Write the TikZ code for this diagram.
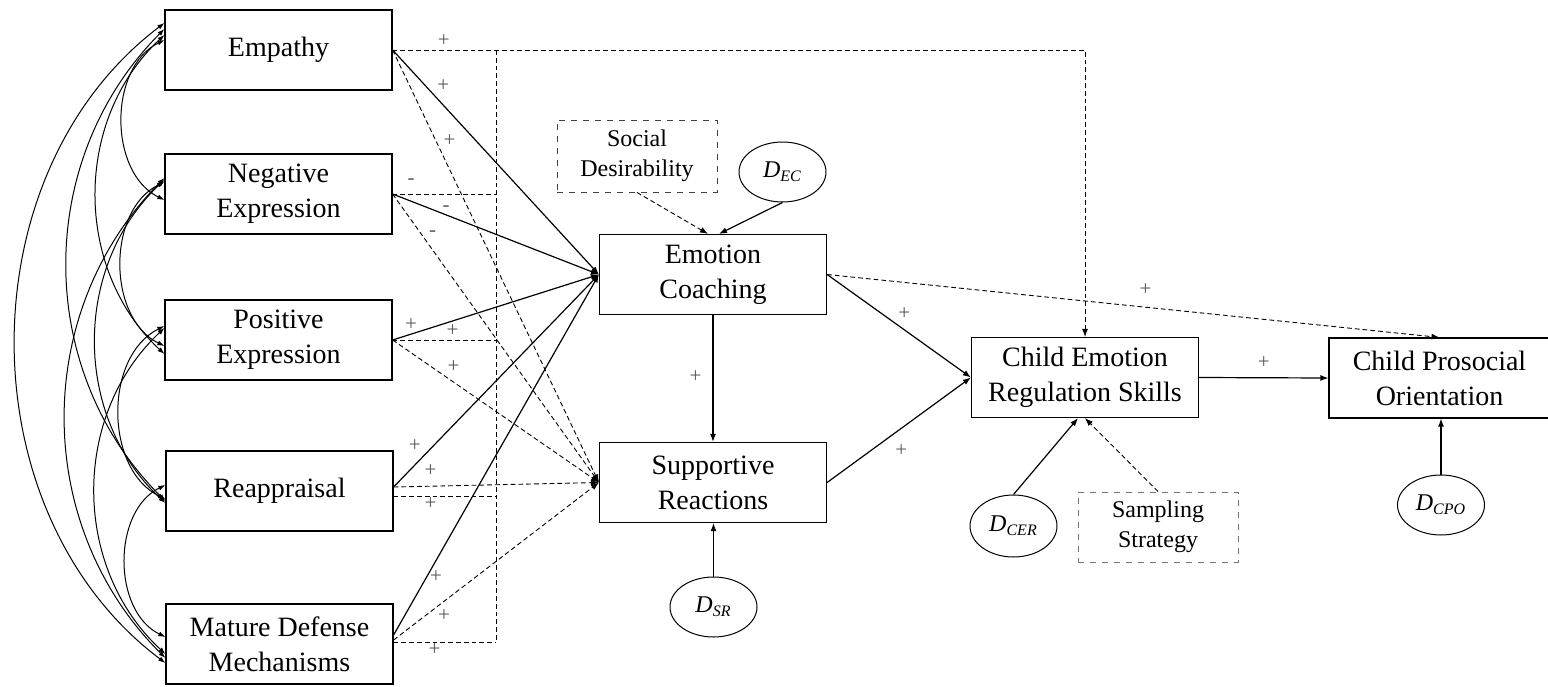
\documentclass[tikz,border=0pt]{standalone}
\usepackage{fontspec}
\setmainfont{Liberation Serif}
\usetikzlibrary{arrows.meta, positioning, calc, shapes.geometric}

\begin{document}
\begin{tikzpicture}[
  x=0.5pt, y=-0.5pt, line width=0.6pt,
  block/.style = {draw, minimum height=40pt, minimum width=113.5pt, inner sep=2pt, align=center, font=\fontsize{14}{17.5}\selectfont},
  ctrl/.style = {draw=black!75, dashed, line width=0.45pt, minimum height=36pt, minimum width=80pt, align=center, font=\fontsize{12}{15}\selectfont},
  dist/.style = {draw, line width=0.5pt, ellipse, minimum height=30pt, minimum width=43.5pt, inner sep=0pt, font=\fontsize{12}{14}\selectfont\itshape},
  arrow/.style = {-{Latex[length=4pt, width=3pt]}},
  dline/.style = {line width=0.45pt, dash pattern=on 2.4pt off 1.5pt},
  darrow/.style = {arrow, dline},
  cov/.style = {{Latex[length=3.5pt, width=2.5pt]}-{Latex[length=3.5pt, width=2.5pt]}, line width=0.5pt},
  sign/.style = {font=\fontsize{10.5}{12}\selectfont, text=black!65, text height=5pt, text depth=0pt, inner sep=1.5pt}
]
\useasboundingbox (0,0) rectangle (1548,686);

% Predictor Blocks
\node[block] (emp) at (278.5,50) {Empathy};
\node[block] (negexp) at (278.5,194) {Negative\\Expression};
\node[block] (posexp) at (278.5,340) {Positive\\Expression};
\node[block] (reapp) at (279.5,491) {Reappraisal};
\node[block] (mature) at (279.5,644) {Mature Defense\\Mechanisms};

% Parenting Blocks
\node[block] (coach) at (713,274.5) {Emotion\\Coaching};
\node[block] (support) at (713,482.5) {Supportive\\Reactions};
\node[ctrl] (socdes) at (637,156) {Social\\Desirability};
\node[dist] (dEC) at (782.5,172) {D\textsubscript{EC}};
\node[dist] (dSR) at (713.5,607) {D\textsubscript{SR}};

% Child Blocks
\node[block] (regul) at (1085,377.5) {Child Emotion\\Regulation Skills};
\node[block, minimum width=110.5pt] (prosoc) at (1439.5,378) {Child Prosocial\\Orientation};
\node[dist, minimum height=31pt] (dCER) at (1013.5,526) {D\textsubscript{CER}};
\node[ctrl, draw=black!55, minimum height=35pt] (sampl) at (1158,527) {Sampling\\Strategy};
\node[dist] (dCPO) at (1441,505) {D\textsubscript{CPO}};

% Dashed bus to child regulation
\coordinate (bustop) at (496,50);
\coordinate (busbot) at (496,642);
\draw[dline] (bustop) -- (busbot);

% Empathy paths
\draw[darrow] (emp.east) -| node[sign, pos=0.037, above] {+} (regul.north);
\draw[arrow] (emp.east) -- node[sign, pos=0.2, above right] {+} (coach.west);
\draw[darrow] (emp.east) -- node[sign, pos=0.23, above right] {+} (support.west);

% Negative Expression paths
\draw[dline] (negexp.east) -- node[sign, pos=0.18, above=3pt] {-} (negexp.east -| bustop);
\draw[arrow] (negexp.east) -- node[sign, pos=0.26, above] {-} (coach.west);
\draw[darrow] (negexp.east) -- node[sign, pos=0.16, above right] {-} (support.west);

% Positive Expression paths
\draw[dline] (posexp.east) -- node[sign, pos=0.58, above] {+} (posexp.east -| bustop);
\draw[arrow] (posexp.east) -- node[sign, pos=0.09, above] {+} (coach.west);
\draw[darrow] (posexp.east) -- node[sign, pos=0.25, above right] {+} (support.west);

% Reappraisal paths
\draw[arrow] ($(reapp.east)+(0,-4)$) -- node[sign, pos=0.15, above left] {+} (coach.west);
\draw[darrow] ($(reapp.east)+(0,-4)$) -- node[sign, pos=0.18, above=3pt] {+} (support.west);
\draw[dline] ($(reapp.east)+(0,5)$) -- node[sign, pos=0.36, below] {+} ($(reapp.east -| bustop)+(0,5)$);

% Mature Defense paths
\draw[arrow] ($(mature.east)+(0,-9)$) -- node[sign, pos=0.16, right] {+} (coach.west);
\draw[darrow] ($(mature.east)+(0,-4)$) -- node[sign, pos=0.2, below right] {+} (support.west);
\draw[dline] ($(mature.east)+(0,-2)$) -- node[sign, pos=0.4, below] {+} (busbot);

% Covariances
\draw[cov] ($(emp.west)+(0,-10)$) to[bend right=64] ($(negexp.west)+(0,6)$);
\draw[cov] ($(emp.west)+(0,-15)$) to[bend right=47] ($(posexp.west)+(0,14)$);
\draw[cov] ($(emp.west)+(0,-21)$) to[bend right=45] ($(reapp.west)+(0,10)$);
\draw[cov] ($(emp.west)+(0,-27)$) to[bend right=53] ($(mature.west)+(0,19)$);
\draw[cov] ($(negexp.west)+(0,-12)$) to[bend right=64] ($(posexp.west)+(0,6)$);
\draw[cov] ($(negexp.west)+(0,-14)$) to[bend right=47] ($(reapp.west)+(0,12)$);
\draw[cov] ($(negexp.west)+(0,-16)$) to[bend right=45] ($(mature.west)+(0,14)$);
\draw[cov] ($(posexp.west)+(0,-14)$) to[bend right=64] ($(reapp.west)+(0,8)$);
\draw[cov] ($(posexp.west)+(0,-12)$) to[bend right=47] ($(mature.west)+(0,10)$);
\draw[cov] ($(reapp.west)+(0,-6)$) to[bend right=64] ($(mature.west)+(0,-7)$);

% Parenting paths
\draw[darrow] (socdes.south) -- ($(coach.north)+(-5,0)$);
\draw[arrow] (dEC.south) -- ($(coach.north)+(6,0)$);
\draw[arrow] (coach.south) -- node[sign, pos=0.49, left=4pt] {+} (support.north);
\draw[arrow] (dSR.north) -- (dSR.north |- support.south);
\draw[arrow] (coach.east) -- node[sign, pos=0.47, above right] {+} (regul.west);
\draw[arrow] (support.east) -- node[sign, pos=0.42, below right=3pt] {+} (regul.west);
\draw[darrow] (coach.east) -- node[sign, pos=0.52, above=4pt] {+} (prosoc.north);

% Child paths
\draw[arrow] (regul.east) -- node[sign, above=3pt] {+} (prosoc.west);
\draw[arrow] (dCER.north) -- ($(regul.south)+(-7,0)$);
\draw[darrow] (sampl.north) -- (regul.south);
\draw[arrow] (dCPO.north) -- (dCPO.north |- prosoc.south);

\end{tikzpicture}
\end{document}
